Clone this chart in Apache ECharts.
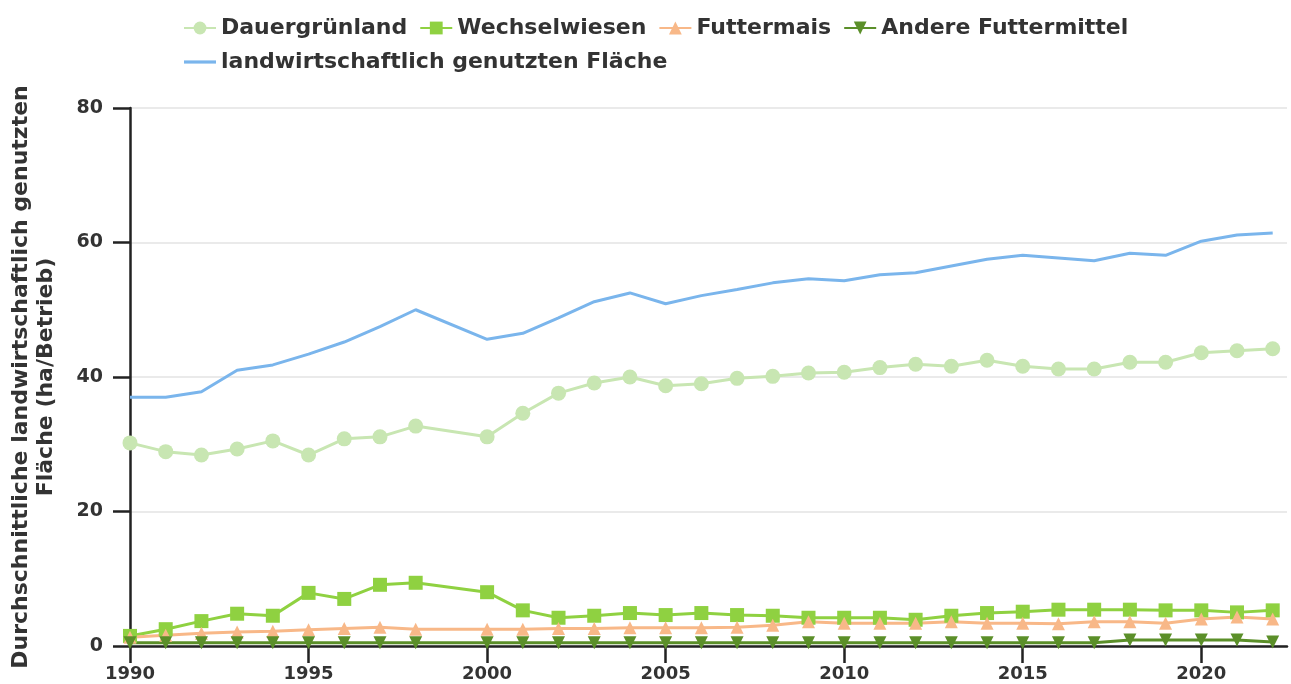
<!DOCTYPE html>
<html>
<head>
<meta charset="utf-8">
<script src="https://cdn.jsdelivr.net/npm/echarts@6/dist/echarts.min.js"></script>
<style>
  html, body { margin: 0; padding: 0; background: #fff; }
  #chart { width: 1291px; height: 684px; }
</style>
</head>
<body>
<div id="chart"></div>
<script>
// Jahre (1999 fehlt in den Daten)
var years = [1990, 1991, 1992, 1993, 1994, 1995, 1996, 1997, 1998, 2000, 2001, 2002, 2003, 2004, 2005, 2006,
    2007, 2008, 2009, 2010, 2011, 2012, 2013, 2014, 2015, 2016, 2017, 2018, 2019, 2020, 2021, 2022];

var dauergruenland = [30.2, 28.9, 28.4, 29.3, 30.5, 28.4, 30.8, 31.1, 32.7, 31.1, 34.6, 37.6, 39.1, 40.0, 38.7, 39.0,
    39.8, 40.1, 40.6, 40.7, 41.4, 41.9, 41.6, 42.5, 41.6, 41.2, 41.2, 42.2, 42.2, 43.6, 43.9, 44.2];
var wechselwiesen = [1.5, 2.5, 3.7, 4.8, 4.5, 7.9, 7.0, 9.1, 9.4, 8.0, 5.3, 4.2, 4.5, 4.9, 4.6, 4.9,
    4.6, 4.5, 4.2, 4.2, 4.2, 3.9, 4.5, 4.9, 5.1, 5.4, 5.4, 5.4, 5.3, 5.3, 5.0, 5.3];
var futtermais = [1.3, 1.6, 1.9, 2.1, 2.2, 2.4, 2.6, 2.8, 2.5, 2.5, 2.5, 2.6, 2.6, 2.7, 2.7, 2.7,
    2.8, 3.1, 3.6, 3.4, 3.4, 3.4, 3.6, 3.4, 3.4, 3.3, 3.6, 3.6, 3.4, 4.0, 4.3, 4.0];
var andereFuttermittel = [0.5, 0.5, 0.5, 0.5, 0.5, 0.5, 0.5, 0.5, 0.5, 0.5, 0.5, 0.5, 0.5, 0.5, 0.5, 0.5,
    0.5, 0.5, 0.5, 0.5, 0.5, 0.5, 0.5, 0.5, 0.5, 0.5, 0.5, 0.9, 0.9, 0.9, 0.9, 0.6];
var lnFlaeche = [37.0, 37.0, 37.8, 41.0, 41.8, 43.4, 45.2, 47.5, 50.0, 45.6, 46.5, 48.8, 51.2, 52.5, 50.9, 52.1,
    53.0, 54.0, 54.6, 54.3, 55.2, 55.5, 56.5, 57.5, 58.1, 57.7, 57.3, 58.4, 58.1, 60.2, 61.1, 61.4];

var xTicks = [1990, 1995, 2000, 2005, 2010, 2015, 2020];

function pairs(vals){
    var out = [];
    for (var i = 0; i < years.length; i++) {
        out.push([years[i], vals[i]]);
    }
    return out;
}

var FONT = 'DejaVu Sans';
var chart = echarts.init(document.getElementById('chart'));

function markerSeries(name, vals, color, symbol, size){
    return {
        name: name,
        type: 'line',
        data: pairs(vals),
        symbol: symbol,
        symbolSize: size,
        showAllSymbol: true,
        itemStyle: { color: color, opacity: 1 },
        lineStyle: { color: color, width: 3 },
        emphasis: { disabled: true },
        z: 3
    };
}

var option = {
    animation: false,
    backgroundColor: '#fff',
    legend: {
        left: 178,
        top: 12,
        width: 1000,
        itemWidth: 32,
        itemHeight: 16,
        itemGap: 12,
        textStyle: { fontFamily: FONT, fontWeight: 'bold', fontSize: 22, color: '#333' },
        data: ['Dauergrünland', 'Wechselwiesen', 'Futtermais', 'Andere Futtermittel',
            { name: 'landwirtschaftlich genutzten Fläche', icon: 'path://M0,0 L30,0 L30,3 L0,3 Z' }]
    },
    grid: { left: 130, right: 4, top: 108, bottom: 38, containLabel: false, outerBoundsMode: 'none' },
    xAxis: {
        type: 'value',
        min: 1990,
        max: 2022.4,
        axisLine: { onZero: false, lineStyle: { color: '#222', width: 2.5 } },
        axisTick: { show: true, length: 17, lineStyle: { color: '#222', width: 2.5 }, customValues: xTicks },
        axisLabel: {
            customValues: xTicks,
            fontFamily: FONT, fontWeight: 'bold', fontSize: 18, color: '#333', margin: 19,
            formatter: function(v){ return String(v); }
        },
        splitLine: { show: false }
    },
    yAxis: {
        type: 'value',
        min: 0,
        max: 80,
        interval: 20,
        name: 'Durchschnittliche landwirtschaftlich genutzten\nFläche (ha/Betrieb)',
        nameLocation: 'middle',
        nameGap: 71,
        nameTextStyle: { fontFamily: FONT, fontWeight: 'bold', fontSize: 22, color: '#333', lineHeight: 25 },
        axisLine: { show: true, lineStyle: { color: '#222', width: 2.5 } },
        axisTick: { show: true, length: 17, lineStyle: { color: '#222', width: 2.5 } },
        axisLabel: { fontFamily: FONT, fontWeight: 'bold', fontSize: 19, color: '#333', margin: 27 },
        splitLine: { show: true, lineStyle: { color: '#e3e3e3', width: 1.5 } }
    },
    series: [
        markerSeries('Dauergrünland', dauergruenland, '#c8e6b2', 'circle', 15),
        markerSeries('Wechselwiesen', wechselwiesen, '#8fd141', 'rect', 14),
        markerSeries('Futtermais', futtermais, '#f8b888', 'triangle', 13),
        markerSeries('Andere Futtermittel', andereFuttermittel, '#5b8f29', 'path://M0,0 L10,0 L5,10 Z', 13),
        {
            name: 'landwirtschaftlich genutzten Fläche',
            type: 'line',
            data: pairs(lnFlaeche),
            symbol: 'none',
            itemStyle: { color: '#7ab5ec' },
            lineStyle: { color: '#7ab5ec', width: 3 },
            emphasis: { disabled: true },
            z: 4
        }
    ]
};

chart.setOption(option);
</script>
</body>
</html>
